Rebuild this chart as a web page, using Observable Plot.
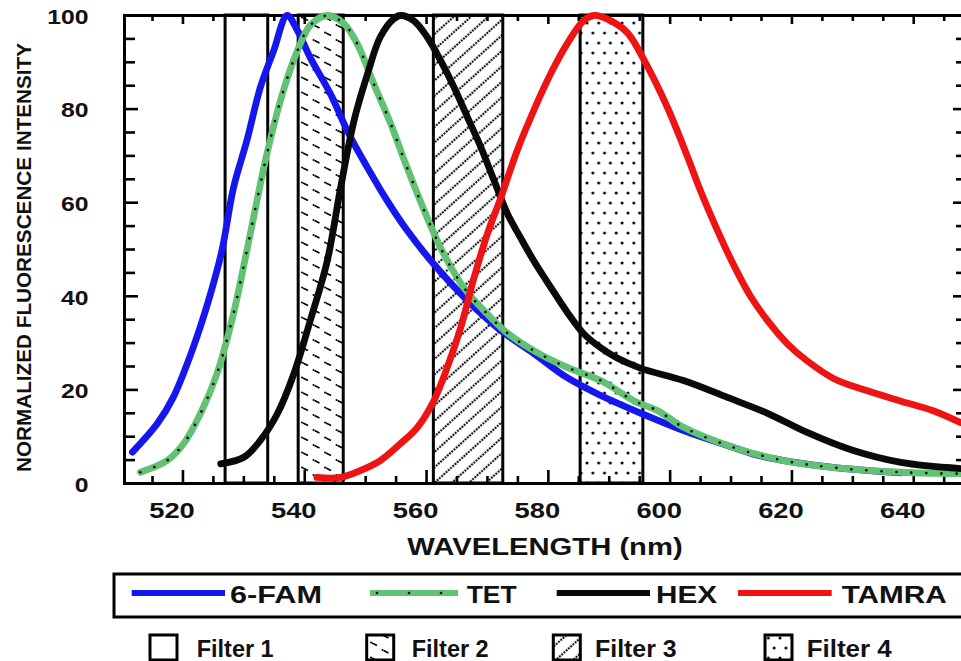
<!DOCTYPE html>
<html><head><meta charset="utf-8">
<script src="https://cdn.jsdelivr.net/npm/d3@7"></script>
<script src="https://cdn.jsdelivr.net/npm/@observablehq/plot@0.6"></script>
<style>
html,body{margin:0;padding:0;background:#fff;overflow:hidden;}
#chart svg,#legend svg{display:block}
</style>
</head><body><div id="chart"></div><div id="legend"></div>
<script>
// ---- data ----
const seriesNames = ["6-FAM", "TET", "HEX", "TAMRA"];
const famWl = [511.7, 515.8, 518.4, 521.5, 524.2, 526.4, 528.3, 530.5, 532.7, 534.9, 537.1, 538.8, 540.9, 544.2, 547.2, 550.3, 553.5, 556.8, 561.1, 566.7, 572.2, 577.6, 583.1, 588.6, 595.2, 602.2, 610.4, 614.9, 626.4, 637.9];
const famInt = [6.7, 12.8, 18.4, 28.4, 39.1, 49.8, 63.2, 73.3, 84.6, 92.5, 100, 96.8, 91.0, 83.3, 74.8, 67.5, 60.5, 54.1, 47.0, 39.1, 32.7, 27.8, 22.6, 18.8, 15.0, 11.3, 7.7, 5.9, 3.5, 2.3];
const tetWl = [513.0, 517.4, 520.1, 522.9, 525.6, 528.3, 530.5, 533.8, 536.5, 538.8, 540.9, 543.7, 546.4, 548.6, 551.3, 554.1, 556.8, 560.1, 562.8, 566.1, 569.4, 573.3, 577.6, 583.1, 588.6, 594.0, 597.9, 602.2, 610.4, 618.6, 626.9, 637.9, 647.7];
const tetInt = [2.4, 4.9, 8.5, 15.0, 23.5, 36.3, 49.8, 70.5, 84.0, 92.5, 97.9, 100, 98.3, 94.0, 85.5, 76.9, 67.5, 56.8, 49.1, 41.9, 37.0, 32.1, 28.4, 24.8, 22.0, 17.7, 15.6, 12.0, 7.7, 4.9, 3.4, 2.4, 2.1];
const hexWl = [526.2, 530.0, 532.7, 535.5, 538.2, 540.9, 543.7, 545.9, 548.1, 550.3, 552.4, 554.6, 555.7, 557.9, 560.1, 562.3, 564.5, 566.7, 568.9, 571.1, 573.3, 575.4, 577.6, 580.4, 583.1, 585.8, 588.6, 591.3, 595.2, 602.2, 609.4, 616.0, 622.5, 629.7, 637.9, 647.7];
const hexInt = [4.2, 5.6, 9.2, 14.9, 23.4, 34.8, 47.6, 63.3, 77.6, 87.5, 95.4, 99.3, 100, 98.9, 95.4, 90.4, 84.7, 78.3, 71.9, 64.7, 57.6, 52.6, 47.6, 41.9, 36.6, 32.0, 29.0, 26.8, 24.6, 22.0, 18.4, 15.0, 10.9, 7.2, 4.5, 3.2];
const tamraWl = [542.0, 545.9, 549.2, 552.4, 555.7, 558.5, 561.2, 563.4, 565.6, 567.8, 570.0, 572.2, 574.9, 577.6, 580.4, 583.1, 585.8, 587.5, 590.2, 593.0, 595.7, 599.5, 602.8, 605.0, 607.8, 610.5, 613.2, 616.0, 619.3, 622.5, 626.9, 632.4, 637.9, 643.3, 647.7];
const tamraInt = [1.3, 1.3, 2.8, 4.9, 8.5, 12.0, 17.7, 24.8, 33.3, 44.0, 53.4, 61.1, 71.2, 79.7, 87.6, 94.0, 98.9, 100, 98.9, 96.3, 90.5, 80.5, 70.0, 62.5, 54.0, 46.5, 40.0, 34.8, 29.8, 26.2, 22.4, 19.8, 17.6, 15.5, 13.0];

const filterNames = ["Filter 1", "Filter 2", "Filter 3", "Filter 4"];
const filterLo = [527.0, 539.0, 561.2, 585.3];
const filterHi = [534.0, 546.4, 572.6, 595.6];

const xTickLabels = [520, 540, 560, 580, 600, 620, 640];
const xMinorTicks = [515, 525, 530, 535, 545, 550, 555, 565, 570, 575, 585, 590, 595, 605, 610, 615, 625, 630, 635, 645];
const yTickLabels = [0, 20, 40, 60, 80, 100];
const yMajorTicks = [20, 40, 60, 80];
const yMinorTicks = [5, 10, 15, 25, 30, 35, 45, 50, 55, 65, 70, 75, 85, 90, 95];
const xLabel = "WAVELENGTH (nm)";
const yLabel = "NORMALIZED FLUORESCENCE INTENSITY";

// ---- build tables ----
const wls = [famWl, tetWl, hexWl, tamraWl];
const ints = [famInt, tetInt, hexInt, tamraInt];
const colors = ["#1616ee", "#62c274", "#0a0a0a", "#ee1414"];
const seriesRows = seriesNames.map((name, i) => wls[i].map((w, j) => ({name, wl: w, v: ints[i][j]})));
const filters = filterNames.map((name, i) => ({name, lo: filterLo[i], hi: filterHi[i]}));

const FONT = "'Liberation Sans', Arial, Helvetica, sans-serif";
const W = 961, H = 565, ML = 124, MR = -4, MT = 15, MB = 82;
const PW = W - ML - MR, PH = H - MT - MB;

function addPatterns(svg, prefix) {
  const defs = svg.insert("defs", ":first-child");
  const p2 = defs.append("pattern").attr("id", prefix + "2").attr("patternUnits", "userSpaceOnUse")
    .attr("width", 23).attr("height", 15);
  p2.append("rect").attr("width", 23).attr("height", 15).attr("fill", "white");
  p2.append("path").attr("d", "M4,3 l5,2.5 M15.5,10.5 l5,2.5").attr("stroke", "black")
    .attr("stroke-width", 1.6).attr("fill", "none");
  p2.append("circle").attr("cx", 3).attr("cy", 2.6).attr("r", 1).attr("fill", "black");
  p2.append("circle").attr("cx", 14.5).attr("cy", 10.1).attr("r", 1).attr("fill", "black");
  const p3 = defs.append("pattern").attr("id", prefix + "3").attr("patternUnits", "userSpaceOnUse")
    .attr("width", 12).attr("height", 11.5).attr("patternTransform", "rotate(-42)");
  p3.append("rect").attr("width", 12).attr("height", 11.5).attr("fill", "white");
  p3.append("line").attr("x1", 0).attr("x2", 12).attr("y1", 5.5).attr("y2", 5.5).attr("stroke", "black")
    .attr("stroke-width", 1.8).attr("stroke-dasharray", "2 1");
  const p4 = defs.append("pattern").attr("id", prefix + "4").attr("patternUnits", "userSpaceOnUse")
    .attr("width", 11.7).attr("height", 20);
  p4.append("rect").attr("width", 11.7).attr("height", 20).attr("fill", "white");
  p4.append("circle").attr("cx", 2).attr("cy", 3).attr("r", 1.5).attr("fill", "black");
  p4.append("circle").attr("cx", 7.85).attr("cy", 13).attr("r", 1.5).attr("fill", "black");
}
const patFill = ["white", "url(#fp2)", "url(#fp3)", "url(#fp4)"];

const marks = [
  ...filters.map((f, i) => Plot.rect([f], {x1: "lo", x2: "hi", y1: 0, y2: 100, fill: patFill[i], stroke: "black", strokeWidth: 3})),
  // inward ticks: bottom, top, left, right
  Plot.ruleX(xMinorTicks, {x: d => d, insetTop: PH - 7, stroke: "black", strokeWidth: 2.6}),
  Plot.ruleX(xTickLabels, {x: d => d, insetTop: PH - 13, stroke: "black", strokeWidth: 2.6}),
  Plot.ruleX(xMinorTicks, {x: d => d, insetBottom: PH - 6, stroke: "black", strokeWidth: 2.6}),
  Plot.ruleX(xTickLabels, {x: d => d, insetBottom: PH - 9, stroke: "black", strokeWidth: 2.6}),
  Plot.ruleY(yMinorTicks, {y: d => d, insetRight: PW - 11, stroke: "black", strokeWidth: 2.6}),
  Plot.ruleY(yMajorTicks, {y: d => d, insetRight: PW - 14, stroke: "black", strokeWidth: 2.6}),
  Plot.ruleY(yMinorTicks, {y: d => d, insetLeft: PW - 9, stroke: "black", strokeWidth: 2.6}),
  Plot.ruleY(yMajorTicks, {y: d => d, insetLeft: PW - 12, stroke: "black", strokeWidth: 2.6}),
  Plot.frame({stroke: "black", strokeWidth: 3}),
  // curves
  ...seriesRows.map((rows, i) => Plot.line(rows, {x: "wl", y: "v", stroke: colors[i], strokeWidth: 6.8, strokeLinejoin: "round", curve: "catmull-rom"})),
  Plot.line(seriesRows[1], {x: "wl", y: "v", stroke: "black", strokeWidth: 2.6, strokeDasharray: "0 15", strokeLinecap: "round", curve: "catmull-rom"}),
  // axis text
  Plot.text(xTickLabels, {x: d => d, text: d => String(d), frameAnchor: "bottom", dy: 27.5, dx: -11, lineAnchor: "middle", fontSize: 21.5, fontWeight: "bold", fill: "#111"}),
  Plot.text(yTickLabels, {y: d => d, text: d => String(d), frameAnchor: "left", dx: -36, dy: 2, textAnchor: "end", lineAnchor: "middle", fontSize: 19.5, fontWeight: "bold", fill: "#111"}),
  Plot.text([xLabel], {text: d => d, frameAnchor: "bottom", dy: 64, lineAnchor: "middle", fontSize: 23, fontWeight: "bold", fill: "#111"}),
  Plot.text([yLabel], {text: d => d, frameAnchor: "left", dx: -100, dy: 8, rotate: -90, textAnchor: "middle", lineAnchor: "middle", fontSize: 20.7, fontWeight: "bold", fill: "#111"})
];

const chart = Plot.plot({
  width: W, height: H,
  marginLeft: ML, marginRight: MR, marginTop: MT, marginBottom: MB,
  x: {domain: [510.4, 648.5], axis: null},
  y: {domain: [0, 100], axis: null},
  style: {background: "white", fontFamily: FONT, maxWidth: "none", overflow: "hidden"},
  marks
});
document.getElementById("chart").appendChild(chart);
addPatterns(d3.select(chart), "fp");

// ---- legend (below the plot) ----
const L = d3.select("#legend").append("svg").attr("width", W).attr("height", 96)
  .style("font-family", FONT).style("font-weight", "bold").style("background", "white");
addPatterns(L, "lp");
L.append("rect").attr("x", 114).attr("y", 9).attr("width", 852).attr("height", 43)
  .attr("fill", "none").attr("stroke", "black").attr("stroke-width", 3);
const lineX = [[131.7, 225], [370, 458], [556.7, 650], [738, 831.7]];
const lineTextX = [230, 466.7, 656, 841.7];
const lineTextW = [92, 50, 61, 105];
seriesNames.forEach((name, i) => {
  L.append("line").attr("x1", lineX[i][0]).attr("x2", lineX[i][1]).attr("y1", 28).attr("y2", 28)
    .attr("stroke", colors[i]).attr("stroke-width", 6);
  if (i === 1) L.append("line").attr("x1", lineX[i][0] + 7).attr("x2", lineX[i][1]).attr("y1", 28).attr("y2", 28)
    .attr("stroke", "black").attr("stroke-width", 2.6).attr("stroke-linecap", "round").attr("stroke-dasharray", "0 32");
  L.append("text").attr("x", lineTextX[i]).attr("y", 38).attr("font-size", 23).attr("fill", "#111")
    .attr("textLength", lineTextW[i]).attr("lengthAdjust", "spacingAndGlyphs").text(name);
});
const boxX = [150, 366.7, 553.3, 765];
const boxTextX = [196.7, 411.7, 595, 806.7];
const boxTextW = [77, 77, 81.7, 85];
const legendFill = ["white", "url(#lp2)", "url(#lp3)", "url(#lp4)"];
filterNames.forEach((name, i) => {
  L.append("rect").attr("x", boxX[i]).attr("y", 70).attr("width", 27).attr("height", 25)
    .attr("fill", legendFill[i]).attr("stroke", "black").attr("stroke-width", 3);
  L.append("text").attr("x", boxTextX[i]).attr("y", 92).attr("font-size", 23).attr("fill", "#111")
    .attr("textLength", boxTextW[i]).attr("lengthAdjust", "spacingAndGlyphs").text(name);
});

// stretch the plot's text horizontally like the reference typeface
chart.querySelectorAll("text").forEach(t => {
  const tr = t.getAttribute("transform") || "";
  const len = t.getComputedTextLength();
  t.setAttribute("textLength", tr.includes("rotate") ? 429 : len * 1.27);
  t.setAttribute("lengthAdjust", "spacingAndGlyphs");
});
</script>
</body></html>
